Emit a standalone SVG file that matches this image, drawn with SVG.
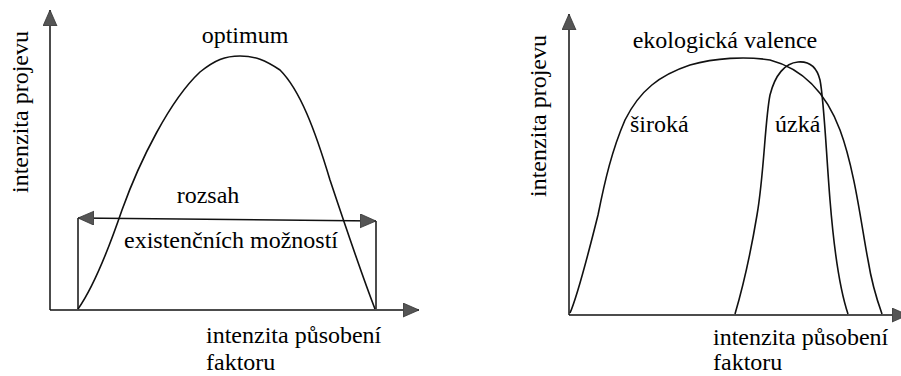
<svg xmlns="http://www.w3.org/2000/svg" width="901" height="376" viewBox="0 0 901 376">
<defs>
<marker id="ah" markerUnits="userSpaceOnUse" markerWidth="17" markerHeight="15" refX="16" refY="7" orient="auto-start-reverse" viewBox="0 0 17 15">
<path d="M0,0 L16,7 L0,14 Z" fill="#555" stroke="#333" stroke-width="0.8"/>
</marker>
</defs>
<rect width="901" height="376" fill="#fff"/>
<g id="chart-left">
<g id="axes-left" stroke="#111" stroke-width="1.5" fill="none">
<line x1="50" y1="310" x2="50" y2="10" marker-end="url(#ah)"/>
<line x1="50" y1="310" x2="419" y2="310" marker-end="url(#ah)"/>
</g>
<path id="curve-optimum" stroke="#111" stroke-width="1.6" fill="none" d="M78,309 C95,285 110,245 122,210 C140,160 170,100 200,72 C215,60 225,56 240,56 C255,56 265,60 280,70 C300,90 315,130 330,180 C345,225 360,270 375,309"/>
<g id="range" stroke="#111" stroke-width="1.5" fill="none">
<line x1="78" y1="309" x2="78" y2="218"/>
<line x1="376" y1="309" x2="376" y2="221"/>
<line x1="78" y1="218" x2="376" y2="221" marker-start="url(#ah)" marker-end="url(#ah)"/>
</g>
<g id="labels-left">
<text font-family="serif" font-size="24" x="245" y="43" text-anchor="middle">optimum</text>
<text font-family="serif" font-size="24" x="208" y="203" text-anchor="middle">rozsah</text>
<text font-family="serif" font-size="24" x="231" y="248" text-anchor="middle">existenčních možností</text>
<text font-family="serif" font-size="24" x="206" y="343">intenzita působení</text>
<text font-family="serif" font-size="24" x="206" y="370">faktoru</text>
<text font-family="serif" font-size="24" transform="translate(28,112) rotate(-90)" text-anchor="middle">intenzita projevu</text>
</g>
</g>
<g id="chart-right">
<g id="axes-right" stroke="#111" stroke-width="1.5" fill="none">
<line x1="569" y1="315" x2="569" y2="14" marker-end="url(#ah)"/>
<line x1="569" y1="315" x2="908" y2="315" marker-end="url(#ah)"/>
</g>
<g id="curves-right" stroke="#111" stroke-width="1.6" fill="none">
<path id="curve-siroka" d="M570,313 C578,295 588,255 598,215 C605,180 612,150 625,120 C640,90 660,75 690,65 C715,58 745,56 770,60 C800,68 825,90 840,130 C855,170 862,230 868,260 C872,285 877,300 882,314"/>
<path id="curve-uzka" d="M735,314 C745,280 752,245 757,215 C764,175 765,120 770,95 C775,75 785,63 798,62 C810,61 817,68 820,80 C824,100 826,150 830,200 C834,250 840,290 848,314"/>
</g>
<g id="labels-right">
<text font-family="serif" font-size="24" x="725" y="48" text-anchor="middle">ekologická valence</text>
<text font-family="serif" font-size="24" x="630" y="132">široká</text>
<text font-family="serif" font-size="24" x="775" y="132">úzká</text>
<text font-family="serif" font-size="24" x="713" y="345">intenzita působení</text>
<text font-family="serif" font-size="24" x="713" y="370">faktoru</text>
<text font-family="serif" font-size="24" transform="translate(546,116) rotate(-90)" text-anchor="middle">intenzita projevu</text>
</g>
</g>
</svg>
